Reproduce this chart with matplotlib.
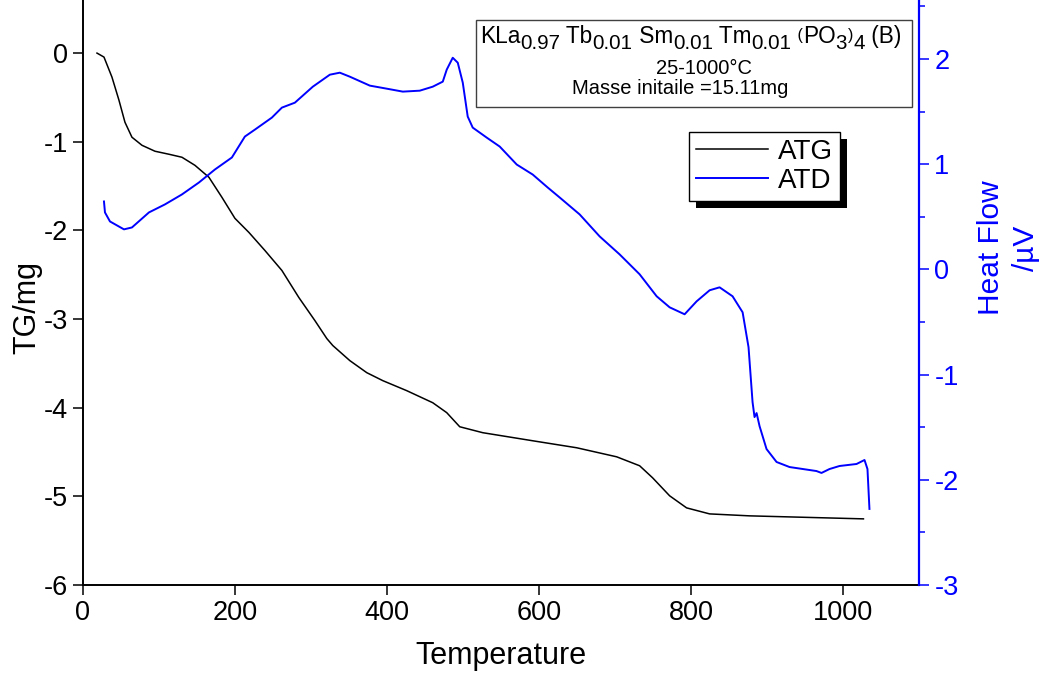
import matplotlib
matplotlib.use("Agg")
import matplotlib.pyplot as plt
from matplotlib.patches import Rectangle
from matplotlib.transforms import IdentityTransform
from matplotlib.ticker import MultipleLocator

plt.rcParams['font.family'] = ['Liberation Sans', 'DejaVu Sans']
plt.rcParams['axes.unicode_minus'] = False

# ATG (TG, mg) vs temperature
atg_temp = [18.4, 27.6, 38.1, 47.3, 55.2, 64.4, 77.6, 94.7, 113.1, 130.2,
            147.3, 165.7, 182.8, 199.9, 218.3, 239.3, 261.7, 284.0, 305.1, 320.8,
            328.7, 351.1, 373.4, 394.5, 426.0, 460.2, 478.6, 495.7, 526.0, 591.7,
            649.6, 702.2, 732.4, 749.5, 771.9, 794.2, 824.5, 877.0, 1026.9]
atg_tg = [0.0, -0.045, -0.271, -0.531, -0.780, -0.949, -1.040, -1.107, -1.141, -1.175,
          -1.266, -1.401, -1.627, -1.864, -2.023, -2.226, -2.452, -2.757, -3.017, -3.220,
          -3.299, -3.469, -3.605, -3.695, -3.808, -3.944, -4.056, -4.215, -4.282, -4.373,
          -4.452, -4.554, -4.655, -4.791, -4.994, -5.130, -5.198, -5.220, -5.254]

# ATD (heat flow, uV) vs temperature
atd_temp = [27.6, 28.9, 35.5, 53.9, 64.4, 86.8, 107.8, 130.2, 152.5, 173.6,
            195.9, 213.0, 226.2, 248.5, 261.7, 278.8, 302.4, 324.8, 337.9, 351.1,
            377.4, 399.7, 420.8, 443.1, 460.2, 473.4, 478.6, 486.5, 493.1, 499.7,
            506.2, 512.8, 531.2, 548.3, 570.7, 591.7, 611.4, 627.2, 653.5, 679.8,
            706.1, 732.4, 754.8, 771.9, 791.6, 807.4, 824.5, 837.6, 854.7, 867.9,
            875.7, 881.0, 883.6, 886.3, 890.2, 899.4, 912.6, 929.7, 965.1, 971.7,
            982.2, 995.4, 1017.8, 1028.3, 1032.2, 1034.8]
atd_hf = [0.645, 0.541, 0.455, 0.380, 0.398, 0.541, 0.617, 0.712, 0.825, 0.949,
          1.063, 1.262, 1.328, 1.442, 1.537, 1.584, 1.736, 1.850, 1.869, 1.831,
          1.746, 1.717, 1.689, 1.698, 1.736, 1.784, 1.898, 2.011, 1.964, 1.774,
          1.452, 1.347, 1.252, 1.167, 0.996, 0.901, 0.778, 0.683, 0.522, 0.313,
          0.142, -0.047, -0.256, -0.361, -0.427, -0.304, -0.199, -0.171, -0.256, -0.408,
          -0.740, -1.262, -1.404, -1.366, -1.490, -1.708, -1.831, -1.879, -1.917, -1.935,
          -1.898, -1.869, -1.850, -1.812, -1.898, -2.277]

x_ticks = [0, 200, 400, 600, 800, 1000]
tg_ticks = [0, -1, -2, -3, -4, -5, -6]
hf_ticks = [2, 1, 0, -1, -2, -3]

# formula line: (text, kind) with kind main / sub / paren
formula = [('KLa', 'main'), ('0.97', 'sub'), (' Tb', 'main'), ('0.01', 'sub'),
           (' Sm', 'main'), ('0.01', 'sub'), (' Tm', 'main'), ('0.01', 'sub'),
           (' (', 'paren'), ('PO', 'main'), ('3', 'sub'), (')', 'paren'),
           ('4', 'sub'), (' (B)', 'main')]
info_lines = ['25-1000\u00b0C', 'Masse initaile =15.11mg']

blue = '#0000ff'

fig = plt.figure(figsize=(10.4, 6.75), dpi=100)
ax = fig.add_axes([83 / 1040, 1 - 585 / 675, 836 / 1040, 585 / 675])
ax2 = ax.twinx()

l1, = ax.plot(atg_temp, atg_tg, color='black', lw=1.1, label='ATG')
l2, = ax2.plot(atd_temp, atd_hf, color=blue, lw=1.4, label='ATD')

ax.set_xlim(0, 1100)
ax.set_ylim(-6, 53 / 88.5)
ax2.set_ylim(-3, 2 + 59 / 105.4)

ax.set_xticks(x_ticks)
ax.set_yticks(tg_ticks)
ax2.set_yticks(hf_ticks)
ax2.yaxis.set_minor_locator(MultipleLocator(0.5))

for a in (ax, ax2):
    a.spines['top'].set_visible(False)
ax.spines['right'].set_visible(False)
ax.spines['left'].set_linewidth(1.4)
ax.spines['bottom'].set_linewidth(1.4)
ax2.spines['left'].set_visible(False)
ax2.spines['bottom'].set_visible(False)
ax2.spines['right'].set_color(blue)
ax2.spines['right'].set_linewidth(1.6)

ax.tick_params(axis='both', direction='out', length=7, width=1.1, labelsize=19.5, pad=4)
ax2.tick_params(axis='y', which='major', direction='out', length=7, width=1.1,
                labelsize=19.5, colors=blue, pad=4)
ax2.tick_params(axis='y', which='minor', direction='out', length=4.5, width=1.1, colors=blue)

ax.set_xlabel('Temperature', fontsize=22)
ax.xaxis.set_label_coords(0.5, -0.095)
ax.set_ylabel('TG/mg', fontsize=22)
ax.yaxis.set_label_coords(-0.049, 0.475)
ax2.set_ylabel('Heat Flow\n/\u00b5V', fontsize=21.5, color=blue, rotation=90,
               va='center', ha='center', linespacing=1.3)
ax2.yaxis.set_label_coords(1.107, 0.576)

# info box
fig.patches.append(Rectangle((476 / 1040, 1 - 107 / 675), 436 / 1040, 87 / 675,
                             transform=fig.transFigure, facecolor='white',
                             edgecolor='#404040', lw=1.0, zorder=3))
renderer = fig.canvas.get_renderer()
x = 480 / 1040
base = 1 - 43 / 675
styles = {'main': (16.3, 0.0), 'sub': (14.8, -6 / 675), 'paren': (11.5, 3 / 675)}
for s, kind in formula:
    size, dy = styles[kind]
    if kind == 'paren':
        x += 1.5 / 1040
    t = fig.text(x, base + dy, s, fontsize=size, ha='left', va='baseline', zorder=4)
    x += t.get_window_extent(renderer).width / 1040
fig.text(704 / 1040, 1 - 74.5 / 675, info_lines[0], fontsize=14.5,
         ha='center', va='baseline', zorder=4)
fig.text(680 / 1040, 1 - 93.5 / 675, info_lines[1], fontsize=14.5,
         ha='center', va='baseline', zorder=4)

leg = ax2.legend(handles=[l1, l2], loc='upper left', bbox_to_anchor=(0.725, 0.775),
                 borderaxespad=0, fontsize=20, frameon=True, fancybox=False,
                 framealpha=1, edgecolor='black', handlelength=2.6,
                 handletextpad=0.35, labelspacing=0.12, borderpad=0.25)
leg.get_frame().set_linewidth(1.0)
leg.set_zorder(6)

fig.canvas.draw()
bb = leg.get_window_extent()
off = 7
ax2.add_patch(Rectangle((bb.x0 + off, bb.y0 - off), bb.width, bb.height,
                        transform=IdentityTransform(), facecolor='black',
                        edgecolor='none', clip_on=False, zorder=5.5))

fig.savefig('out.png', dpi=100)
